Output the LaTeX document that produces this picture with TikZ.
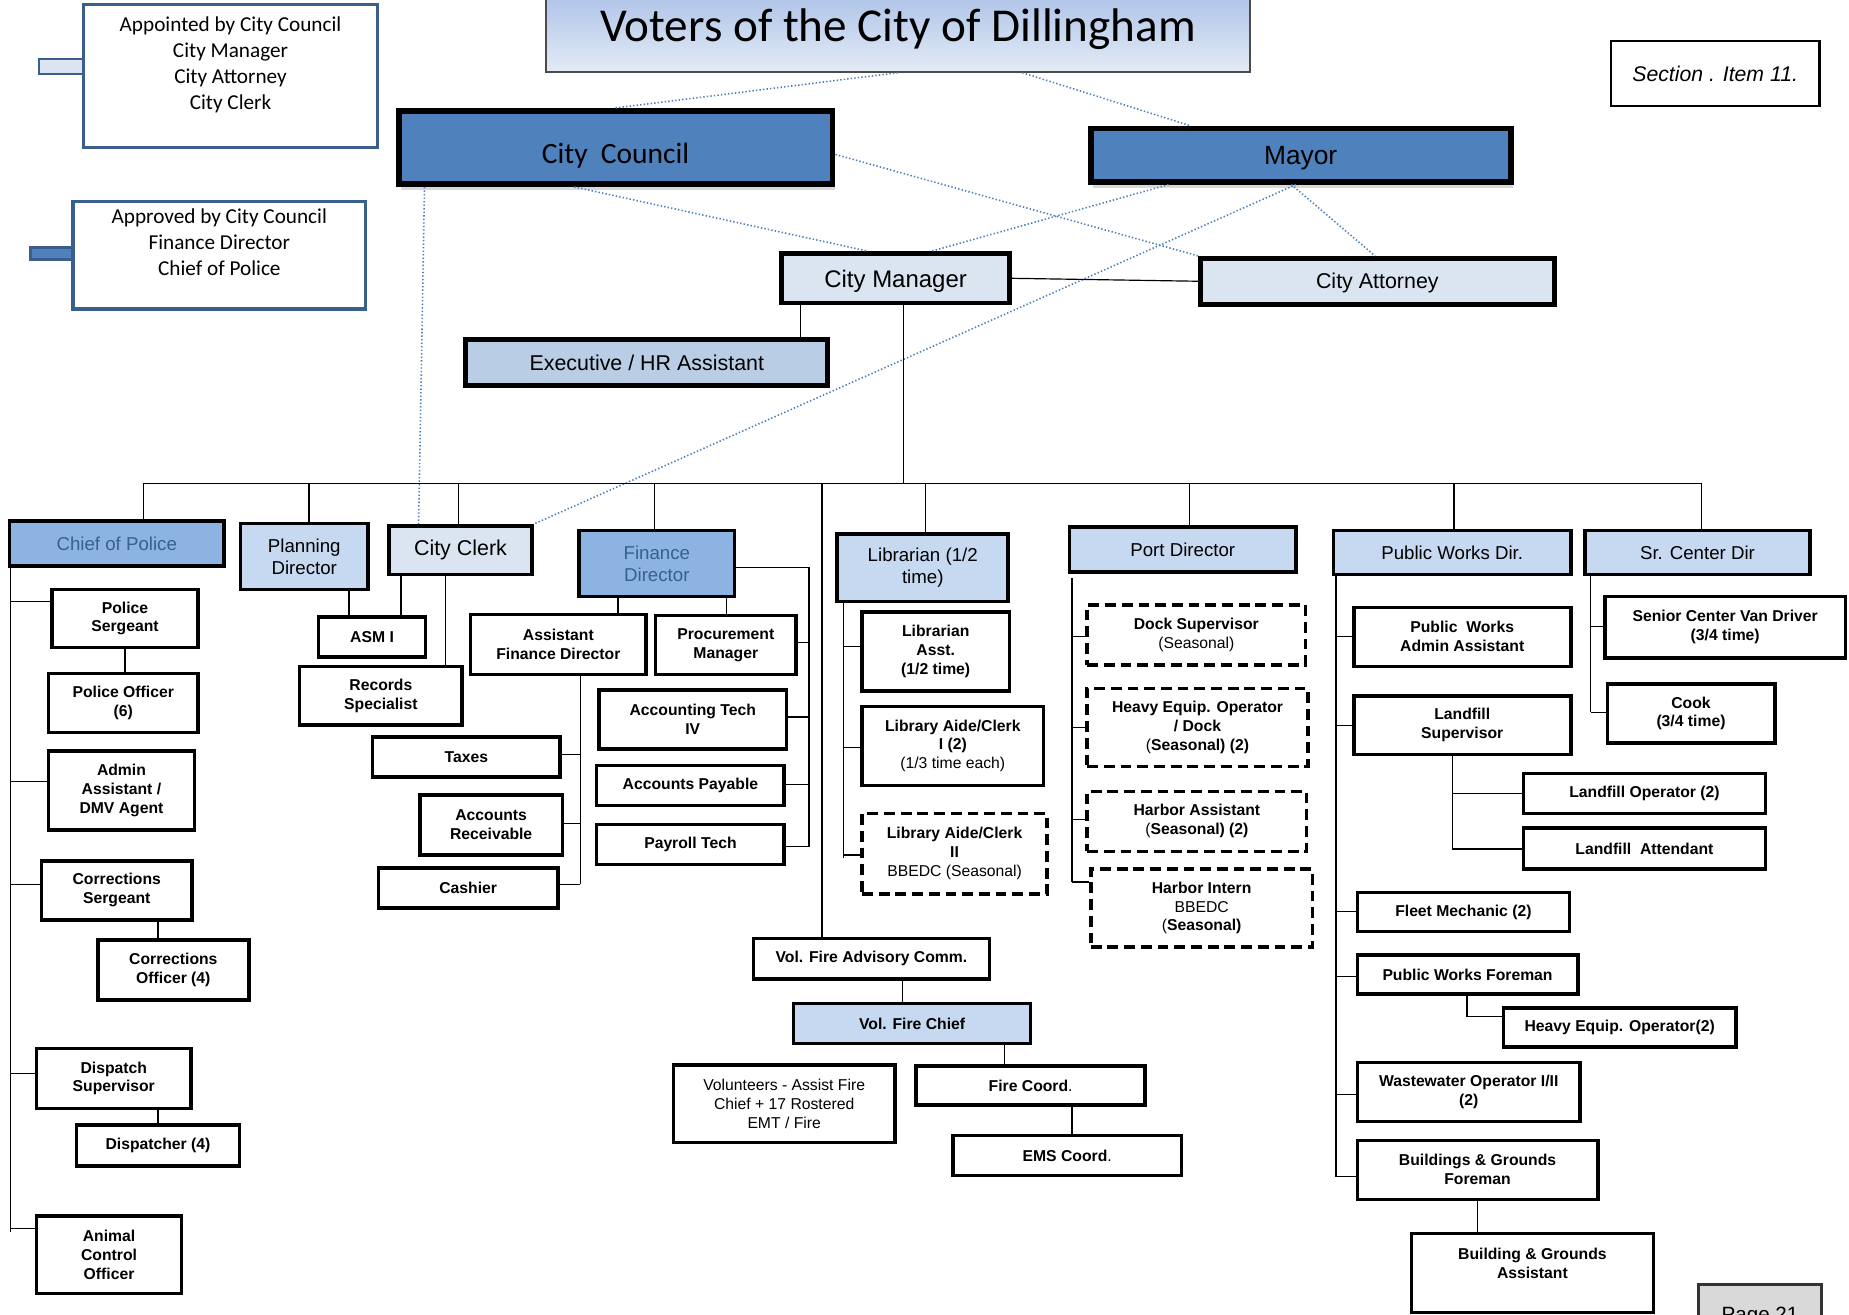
\documentclass[tikz,border=0pt]{standalone}
\usepackage{fontspec}
\setmainfont{Liberation Sans}
\newfontfamily\calib{Carlito}
\usetikzlibrary{shadows}
\definecolor{govblue}{HTML}{4F81BD}
\definecolor{midblue}{HTML}{8DB3E2}
\definecolor{paleblue}{HTML}{C6D9F1}
\definecolor{iceblue}{HTML}{DBE5F1}
\definecolor{hrblue}{HTML}{B9CDE5}
\definecolor{inkblue}{HTML}{376092}
\definecolor{edgeblue}{HTML}{3A5F8C}
\definecolor{dotblue}{HTML}{4A7EBB}
\definecolor{titletop}{HTML}{A8BFE6}
\definecolor{titlebot}{HTML}{E4EBF6}
\tikzset{
  sz/.style 2 args = {minimum width=#1*0.6pt, minimum height=#2*0.6pt},
  staff/.style = {draw=black, line width=1.8pt, fill=white, align=center,
                  inner sep=1pt, font=\fontsize{8}{9.6}\selectfont\bfseries},
  seas/.style  = {staff, dash pattern=on 5.5pt off 3pt},
  dept/.style  = {draw=black, line width=1.8pt, align=center, inner sep=1pt,
                  font=\fontsize{9.5}{11.4}\selectfont},
  gov/.style   = {draw=black, line width=3pt, fill=govblue, align=center,
                  drop shadow={shadow xshift=1pt, shadow yshift=-3pt, opacity=.3}},
  exe/.style   = {draw=black, line width=2.4pt, align=center},
  memo/.style  = {draw=edgeblue, line width=1.8pt, fill=white, align=center,
                  font=\calib\fontsize{10.8}{13.2}\selectfont},
  link/.style  = {draw=black, line width=0.6pt},
  vote/.style  = {draw=dotblue, line width=0.8pt, dash pattern=on 0.7pt off 1.1pt},
}
\begin{document}
\begin{tikzpicture}[x=0.6pt, y=-0.6pt]
  \useasboundingbox (0,0) rectangle (1568,1115);
  \node[draw=edgeblue, line width=1.2pt, fill=iceblue, inner sep=0pt, sz={38}{13}] (tab1) at (52,56.5) {};
  \node[memo, sz={249}{121}] (appt) at (195.5,64.5) {Appointed by City Council\\City Manager\\City Attorney\\City Clerk\\~};
  \node[draw=edgeblue, line width=1.2pt, fill=govblue, inner sep=0pt, sz={36}{10}] (tab2) at (44,215) {};
  \node[memo, sz={248}{91}] (appr) at (186,216.5) {Approved by City Council\\Finance Director\\Chief of Police\\~};
  \node[draw=black!70, line width=0.8pt, top color=titletop, bottom color=titlebot, sz={597}{73},
        font=\calib\fontsize{24}{28}\selectfont] (title) at (761.5,24.5) {Voters of the City of Dillingham};
  \node[draw=black, line width=1.2pt, sz={177}{55}, font=\itshape\fontsize{10.8}{13}\selectfont] (sect) at (1454.5,62.5) {Section . Item 11.};

  \node[gov, sz={368}{62}, font=\calib\fontsize{15}{18}\selectfont] (council) at (522,125) {\raisebox{-4pt}[\height][\depth]{City~~Council}};
  \node[gov, sz={356}{45}, font=\fontsize{13.4}{16}\selectfont] (mayor) at (1103,131.5) {\raisebox{-1.8pt}[\height][\depth]{Mayor}};
  \node[exe, fill=iceblue, sz={193}{42}, font=\fontsize{12.2}{14}\selectfont] (mgr) at (759.5,236) {\raisebox{-1.6pt}[\height][\depth]{City Manager}};
  \node[exe, fill=iceblue, sz={300}{39}, font=\fontsize{10.9}{13}\selectfont] (atty) at (1168,238.5) {\raisebox{-1pt}[\height][\depth]{City Attorney}};
  \node[exe, fill=hrblue, sz={307}{39}, font=\fontsize{10.9}{13}\selectfont] (hr) at (548.5,307.5) {Executive / HR Assistant};

  \node[dept, fill=midblue, text=inkblue, sz={182}{38}] (police) at (99,461) {Chief of Police};
  \node[dept, fill=paleblue, sz={108}{56}] (plan) at (258,472) {Planning\\Director};
  \node[dept, fill=iceblue, sz={121}{41}, font=\fontsize{10.9}{13}\selectfont] (clerk) at (390.5,466.5) {City Clerk};
  \node[dept, fill=midblue, text=inkblue, sz={132}{56}] (fin) at (557,478) {Finance\\Director};
  \node[dept, fill=paleblue, sz={145}{57}] (lib) at (782.5,481.5) {Librarian (1/2\\time)};
  \node[dept, fill=paleblue, sz={192}{38}] (port) at (1003,466) {Port Director};
  \node[dept, fill=paleblue, sz={201}{37}] (pw) at (1231.5,468.5) {Public Works Dir.};
  \node[dept, fill=paleblue, sz={191}{37}] (senior) at (1439.5,468.5) {Sr. Center Dir};

  \node[staff, sz={124}{49}] (sgt) at (106,524.5) {Police\\Sergeant};
  \node[staff, sz={127}{50}] (off) at (104.5,596) {Police Officer\\(6)};
  \node[staff, sz={124}{67}] (dmv) at (103,670.5) {Admin\\Assistant /\\DMV Agent};
  \node[staff, sz={128}{50}] (csgt) at (99,755) {Corrections\\Sergeant};
  \node[staff, sz={128}{51}] (coff) at (147,822.5) {Corrections\\Officer (4)};
  \node[staff, sz={131}{51}] (dsup) at (96.5,914.5) {Dispatch\\Supervisor};
  \node[staff, sz={138}{35}] (disp) at (134,971.5) {Dispatcher (4)};
  \node[staff, sz={123}{66}] (aco) at (92.5,1064) {Animal\\Control\\Officer};

  \node[staff, sz={91}{34}] (asm) at (315.5,540) {ASM I};
  \node[staff, sz={138}{50}] (rec) at (323,590) {Records\\Specialist};

  \node[staff, sz={149}{51}] (afd) at (473.5,546.5) {Assistant\\Finance Director};
  \node[staff, sz={119}{50}] (proc) at (615.5,547) {Procurement\\Manager};
  \node[staff, sz={159}{50}] (acct) at (587.5,610) {Accounting Tech\\IV};
  \node[staff, sz={159}{34}] (ap) at (585.5,666) {Accounts Payable};
  \node[staff, sz={159}{34}] (pay) at (585.5,716) {Payroll Tech};
  \node[staff, sz={159}{34}] (tax) at (395.5,642) {Taxes};
  \node[staff, sz={121}{51}] (ar) at (416.5,699.5) {Accounts\\Receivable};
  \node[staff, sz={152}{34}] (cash) at (397,753) {Cashier};

  \node[staff, sz={125}{67}] (lasst) at (793.5,552.5) {Librarian\\Asst.\\(1/2 time)};
  \node[staff, sz={154}{67}] (la1) at (808,632.5) {Library Aide/Clerk\\I (2)\\{\mdseries (1/3 time each)}};
  \node[seas, sz={157}{68}] (la2) at (809.5,724) {Library Aide/Clerk\\II\\{\mdseries BBEDC (Seasonal)}};

  \node[staff, sz={200}{34}] (vfac) at (739,813) {Vol. Fire Advisory Comm.};
  \node[staff, fill=paleblue, sz={201}{34}] (vfc) at (773.5,868) {Vol. Fire Chief};
  \node[staff, sz={188}{66}, font=\fontsize{8}{9.6}\selectfont] (vol) at (665,936) {Volunteers - Assist Fire\\Chief + 17 Rostered\\EMT / Fire};
  \node[staff, sz={194}{33}] (fire) at (874,920.5) {Fire Coord{\mdseries .}};
  \node[staff, sz={194}{34}] (ems) at (905,980) {EMS Coord{\mdseries .}};

  \node[seas, sz={185}{51}] (dock) at (1014.5,538.5) {Dock Supervisor\\{\mdseries (Seasonal)}};
  \node[seas, sz={187}{66}] (heo) at (1015.5,617) {Heavy Equip. Operator\\/ Dock\\{\mdseries (}Seasonal) (2)};
  \node[seas, sz={186}{51}] (ha) at (1015,696.5) {Harbor Assistant\\{\mdseries (}Seasonal) (2)};
  \node[seas, sz={188}{66}] (hi) at (1019,770) {Harbor Intern\\{\mdseries BBEDC}\\{\mdseries (}Seasonal)};

  \node[staff, sz={184}{50}] (pwaa) at (1240,540) {Public~~Works\\Admin Assistant};
  \node[staff, sz={184}{50}] (lfs) at (1240,615) {Landfill\\Supervisor};
  \node[staff, sz={205}{34}] (lfo) at (1394.5,673) {Landfill Operator (2)};
  \node[staff, sz={205}{35}] (lfa) at (1394.5,719.5) {Landfill~~Attendant};
  \node[staff, sz={180}{33}] (fleet) at (1241,773.5) {Fleet Mechanic (2)};
  \node[staff, sz={187}{33}] (pwf) at (1244.5,826.5) {Public Works Foreman};
  \node[staff, sz={197}{33}] (heo2) at (1373.5,871.5) {Heavy Equip. Operator(2)};
  \node[staff, sz={189}{50}] (ww) at (1245.5,926) {Wastewater Operator I/II\\(2)};
  \node[staff, sz={204}{50}] (bgf) at (1253,992) {Buildings \& Grounds\\Foreman};
  \node[staff, sz={205}{67}] (bga) at (1299.5,1079.5) {Building \& Grounds\\Assistant\\~};

  \node[staff, sz={204}{52}] (van) at (1463,532) {Senior Center Van Driver\\(3/4 time)};
  \node[staff, sz={142}{50}] (cook) at (1434,605) {Cook\\(3/4 time)};

  \node[draw=black!80, line width=1.5pt, fill=black!15, sz={105}{54},
        font=\fontsize{10.5}{12}\selectfont] (page) at (1492.5,1116) {Page 21};

  \draw[vote] (council.north) -- (title.south);
  \draw[vote] (title.south -| 867,0) -- (mayor.north -| 1009,0);
  \draw[vote] (council.east |- 0,131) -- (atty.north west);
  \draw[vote] (council.south -| 487,0) -- (mgr.north -| 736,0);
  \draw[vote] (mayor.south -| 991,0) -- (mgr.north -| 790,0);
  \draw[vote] (mayor.south -| 1099,0) -- (clerk.north east);
  \draw[vote] (mayor.south -| 1095,0) -- (atty.north -| 1166,0);
  \draw[vote] (council.south -| 360,0) -- (clerk.north -| 355,0);

  \draw[link] (mgr.east) -- (atty.west);
  \draw[link] (mgr.south -| 679,0) -- (hr.north -| 679,0);
  \coordinate (busL) at (122,410);
  \coordinate (busR) at (1443,410);
  \draw[link] (mgr.south -| 766,0) -- (busL -| 766,0);
  \draw[link] (busL) -- (busR);
  \draw[link] (busL) -- (police.north -| busL);
  \draw[link] (busR) -- (senior.north -| busR);
  \foreach \x/\nm in {262/plan, 389/clerk, 555/fin, 785/lib, 1009/port, 1233/pw, 697/vfac}
    \draw[link] (busL -| \x,0) -- (\nm.north -| \x,0);

  \coordinate (polv) at (9,480);
  \draw[link] (polv) -- (polv |- 0,1045);
  \foreach \y/\nm in {510/sgt, 663/dmv, 750/csgt, 910/dsup, 1042/aco}
    \draw[link] (polv |- 0,\y) -- (\nm.west |- 0,\y);
  \draw[link] (sgt.south) -- (sgt.south |- off.north);
  \draw[link] (csgt.south -| 134,0) -- (coff.north -| 134,0);
  \draw[link] (dsup.south -| 134,0) -- (disp.north -| 134,0);

  \draw[link] (plan.south -| 296,0) -- (asm.north -| 296,0);
  \draw[link] (clerk.south -| 340,0) -- (asm.north -| 340,0);
  \draw[link] (clerk.south -| 378,0) -- (rec.north -| 378,0);

  \draw[link] (fin.south -| 524,0) -- (afd.north -| 524,0);
  \draw[link] (fin.south -| 616,0) -- (proc.north -| 616,0);
  \coordinate (finv) at (686,481);
  \draw[link] (fin.east |- finv) -- (finv) -- (finv |- 0,718);
  \foreach \y/\nm in {545/proc, 608/acct, 665/ap, 718/pay}
    \draw[link] (\nm.east |- 0,\y) -- (finv |- 0,\y);
  \coordinate (afdv) at (492,572);
  \draw[link] (afd.south -| afdv) -- (afdv |- 0,750);
  \foreach \y/\nm in {640/tax, 698/ar, 750/cash}
    \draw[link] (\nm.east |- 0,\y) -- (afdv |- 0,\y);

  \coordinate (libv) at (715,510);
  \draw[link] (libv) -- (libv |- 0,728);
  \foreach \y/\nm in {548/lasst, 634/la1, 725/la2}
    \draw[link] (libv |- 0,\y) -- (\nm.west |- 0,\y);

  \draw[link] (vfac.south -| 765,0) -- (vfc.north -| 765,0);
  \draw[link] (vfc.south -| 852,0) -- (fire.north -| 852,0);
  \draw[link] (fire.south -| 909,0) -- (ems.north -| 909,0);

  \coordinate (portv) at (909,490);
  \draw[link] (portv) -- (portv |- 0,748);
  \foreach \y/\nm in {540/dock, 617/heo, 695/ha, 748/hi}
    \draw[link] (portv |- 0,\y) -- (\nm.west |- 0,\y);

  \coordinate (pwv) at (1133,487);
  \draw[link] (pwv) -- (pwv |- 0,998);
  \foreach \y/\nm in {540/pwaa, 615/lfs, 773/fleet, 828/pwf, 928/ww, 998/bgf}
    \draw[link] (pwv |- 0,\y) -- (\nm.west |- 0,\y);
  \coordinate (lfv) at (1232,640);
  \draw[link] (lfv) -- (lfv |- 0,720) -- (lfa.west |- 0,720);
  \draw[link] (lfv |- 0,673) -- (lfo.west |- 0,673);
  \draw[link] (pwf.south -| 1244,0) |- (heo2.west |- 0,862);
  \draw[link] (bgf.south -| 1253,0) -- (bga.north -| 1253,0);

  \coordinate (srv) at (1349,487);
  \draw[link] (srv) -- (srv |- 0,604);
  \foreach \y/\nm in {531/van, 604/cook}
    \draw[link] (srv |- 0,\y) -- (\nm.west |- 0,\y);
\end{tikzpicture}
\end{document}
